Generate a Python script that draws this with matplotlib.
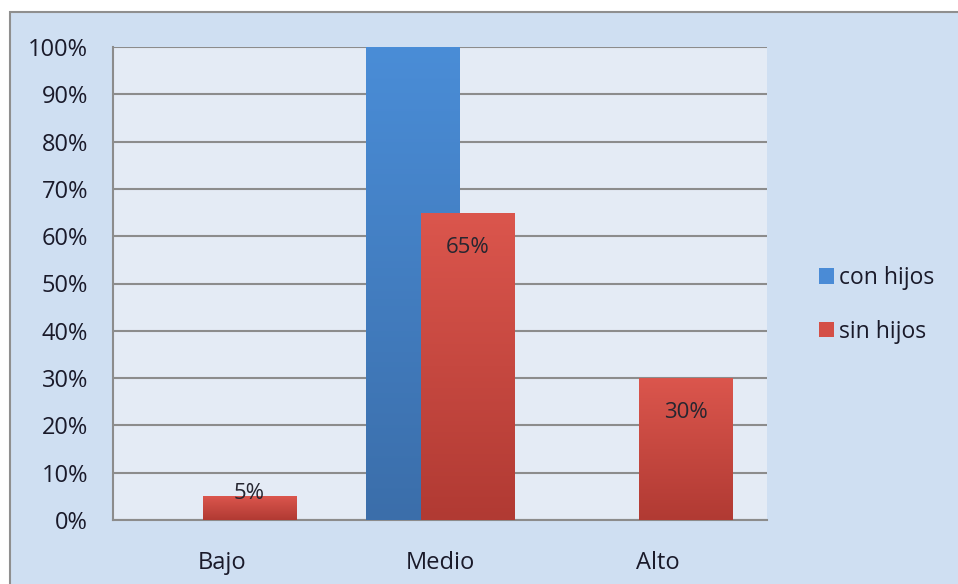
import matplotlib.pyplot as plt
import numpy as np
from matplotlib.patches import Rectangle, Patch
from matplotlib.colors import LinearSegmentedColormap

# Datos
categorias = ['Bajo', 'Medio', 'Alto']
con_hijos = [0, 100, 0]
sin_hijos = [5, 65, 30]
etiquetas_sin = ['5%', '65%', '30%']
series = ['con hijos', 'sin hijos']

plt.rcParams['font.family'] = ['Open Sans', 'DejaVu Sans']

fig = plt.figure(figsize=(9.58, 5.84), dpi=100)
fig.patch.set_facecolor('white')

# Fondo del gráfico con borde
fondo = Rectangle((10 / 958, -0.01), 1.0, 1.01 - 12 / 584, transform=fig.transFigure,
                  facecolor='#cfdff2', edgecolor='#8f8f8f', linewidth=1.5, zorder=-5)
fig.add_artist(fondo)

ax = fig.add_axes([113 / 958, 1 - 520 / 584, (767 - 113) / 958, (520 - 47) / 584])
ax.set_facecolor('#e4ebf5')

x = np.arange(len(categorias))
ancho = 0.427
desp = 0.126

cmap_azul = LinearSegmentedColormap.from_list('azul', ['#3b6eaa', '#4a8dd7'])
cmap_rojo = LinearSegmentedColormap.from_list('rojo', ['#b13a33', '#db564d'])


def barras_degradado(xs, valores, cmap, z):
    barras = ax.bar(xs, valores, width=ancho, color=cmap(0.6), zorder=z, linewidth=0)
    grad = np.linspace(0, 1, 256).reshape(-1, 1)
    for b in barras:
        if b.get_height() <= 0:
            continue
        x0, y0 = b.get_x(), b.get_y()
        im = ax.imshow(grad, extent=[x0, x0 + b.get_width(), y0, y0 + b.get_height()],
                       origin='lower', aspect='auto', cmap=cmap, zorder=z + 0.1)
        im.set_clip_path(b)
    return barras


b1 = barras_degradado(x - desp, con_hijos, cmap_azul, 3)
b2 = barras_degradado(x + desp, sin_hijos, cmap_rojo, 4)

# Etiquetas de datos
for xi, v, t in zip(x + desp, sin_hijos, etiquetas_sin):
    off = -25 if v >= 15 else 2
    ax.annotate(t, (xi, v), xytext=(0, off), textcoords='offset points',
                ha='center', va='center', fontsize=16, color='#262630', zorder=6)

ax.set_xlim(-0.5, 2.5)
ax.set_ylim(0, 100)
ax.set_yticks(np.arange(0, 101, 10))
ax.set_yticklabels([f'{v}%' for v in range(0, 101, 10)])
ax.set_xticks(x)
ax.set_xticklabels(categorias)
ax.tick_params(axis='both', length=0, labelsize=17, colors='#1a1a2a')
ax.tick_params(axis='y', pad=18)
ax.tick_params(axis='x', pad=22)

ax.yaxis.grid(True, color='#8c8c8c', linewidth=1.5, zorder=1)
ax.set_axisbelow(True)
for s in ['top', 'right']:
    ax.spines[s].set_visible(False)
for s in ['left', 'bottom']:
    ax.spines[s].set_color('#8c8c8c')
    ax.spines[s].set_linewidth(1.5)

# Leyenda
manijas = [Patch(facecolor='#4a8bd6', edgecolor='none'),
           Patch(facecolor='#d44f47', edgecolor='none')]
fig.legend(manijas, series, loc='center left', bbox_to_anchor=(798 / 958, 1 - 305 / 584),
           frameon=False, fontsize=16.5, handlelength=0.65, handleheight=0.65,
           handletextpad=0.25, labelspacing=1.3, labelcolor='#1a1a2a')

fig.savefig('out.png', dpi=100)
